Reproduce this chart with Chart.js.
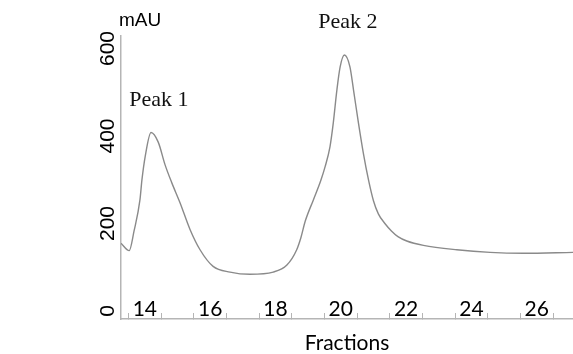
<!DOCTYPE html>
<html><head><meta charset="utf-8">
<script src="https://cdn.jsdelivr.net/npm/chart.js@4"></script>
<style>html,body{margin:0;padding:0;background:#fff}#wrap{width:573px;height:354px}</style>
</head><body><div id="wrap"><canvas id="c" width="573" height="354"></canvas></div>
<script>
// ---- data ----
const fractions = [13.27, 13.52, 13.67, 13.85, 13.91, 14.01, 14.19, 14.41, 14.62, 14.82, 15.08, 15.38, 15.69, 16.09, 16.61, 17.22, 17.93, 18.35, 18.65, 18.78, 18.91, 19.16, 19.39, 19.52, 19.67, 19.77, 19.88, 19.98, 20.11, 20.28, 20.39, 20.54, 20.69, 20.85, 21.0, 21.15, 21.35, 21.55, 21.75, 22.02, 22.53, 23.55, 24.57, 25.59, 27.11];
const absorbance = [155, 138, 183, 254, 299, 353, 408, 386, 334, 294, 247, 187, 140, 102, 89, 84, 89, 105, 140, 168, 205, 254, 299, 330, 376, 430, 505, 558, 585, 558, 505, 430, 361, 299, 252, 222, 200, 183, 170, 160, 150, 140, 134, 132, 134];
const yTicks = [0, 200, 400, 600];
const xLabelTicks = [14, 16, 18, 20, 22, 24, 26];
const fractionEdges = [13.5, 14.5, 15.5, 16.5, 17.5, 18.5, 19.5, 20.5, 21.5, 22.5, 23.5, 24.5, 25.5, 26.5];
const peakLabels = ['Peak 1', 'Peak 2'];
const yUnit = 'mAU';
const xTitle = 'Fractions';

// annotation anchors (data coords)
const peakAnchorX = [14.43, 20.22];
const peakAnchorY = [469, 647];

const allXTicks = [...fractionEdges, ...xLabelTicks].sort((a, b) => a - b);
const isEdge = v => fractionEdges.includes(v);

const annot = {
  id: 'annot',
  afterDraw(chart) {
    const {ctx, scales: {x, y}, chartArea} = chart;
    ctx.save();
    ctx.fillStyle = '#111';
    ctx.textBaseline = 'alphabetic';
    ctx.font = '22px "Liberation Serif"';
    ctx.textAlign = 'center';
    peakLabels.forEach((t, i) => ctx.fillText(t, x.getPixelForValue(peakAnchorX[i]), y.getPixelForValue(peakAnchorY[i])));
    ctx.fillStyle = '#000';
    ctx.font = '19px "Liberation Sans"';
    ctx.textAlign = 'left';
    ctx.fillText(yUnit, chartArea.left - 2, chartArea.top - 10);
    ctx.restore();
  }
};

new Chart(document.getElementById('c'), {
  type: 'line',
  data: {
    datasets: [{
      data: fractions.map((v, i) => ({x: v, y: absorbance[i]})),
      borderColor: '#8a8a8a',
      borderWidth: 1.4,
      pointRadius: 0,
      cubicInterpolationMode: 'monotone',
      fill: false
    }]
  },
  options: {
    responsive: false,
    animation: false,
    layout: {padding: {top: 36, left: 0, right: 0, bottom: 0}},
    plugins: {legend: {display: false}, tooltip: {enabled: false}},
    scales: {
      x: {
        type: 'linear', min: 13.27, max: 27.11,
        afterBuildTicks: s => { s.ticks = allXTicks.map(v => ({value: v})); },
        afterFit: s => { s.height = 35; },
        grid: {drawOnChartArea: false, drawTicks: true, tickLength: -6,
          color: c => (c.tick && isEdge(c.tick.value)) ? '#b5b5b5' : 'rgba(0,0,0,0)', lineWidth: 1},
        border: {color: '#b5b5b5', width: 1.5},
        ticks: {autoSkip: false, mirror: true, maxRotation: 0, minRotation: 0, padding: -1, color: '#000',
          font: {family: 'Lato', size: 21, lineHeight: 1},
          callback: v => xLabelTicks.includes(v) ? String(v) : ''},
        title: {display: true, text: xTitle, color: '#000', font: {family: 'Lato', size: 21, lineHeight: 1}, padding: {top: 0, bottom: 0}}
      },
      y: {
        min: -18.3, max: 628.6,
        afterBuildTicks: s => { s.ticks = yTicks.map(v => ({value: v})); },
        afterFit: s => { s.width = 121; },
        grid: {drawOnChartArea: false, drawTicks: false},
        border: {color: '#b5b5b5', width: 1.5},
        ticks: {minRotation: 90, maxRotation: 90, crossAlign: 'center', padding: -5, color: '#000',
          font: {family: 'Liberation Sans', size: 21}}
      }
    }
  },
  plugins: [annot]
});
</script>
</body></html>
